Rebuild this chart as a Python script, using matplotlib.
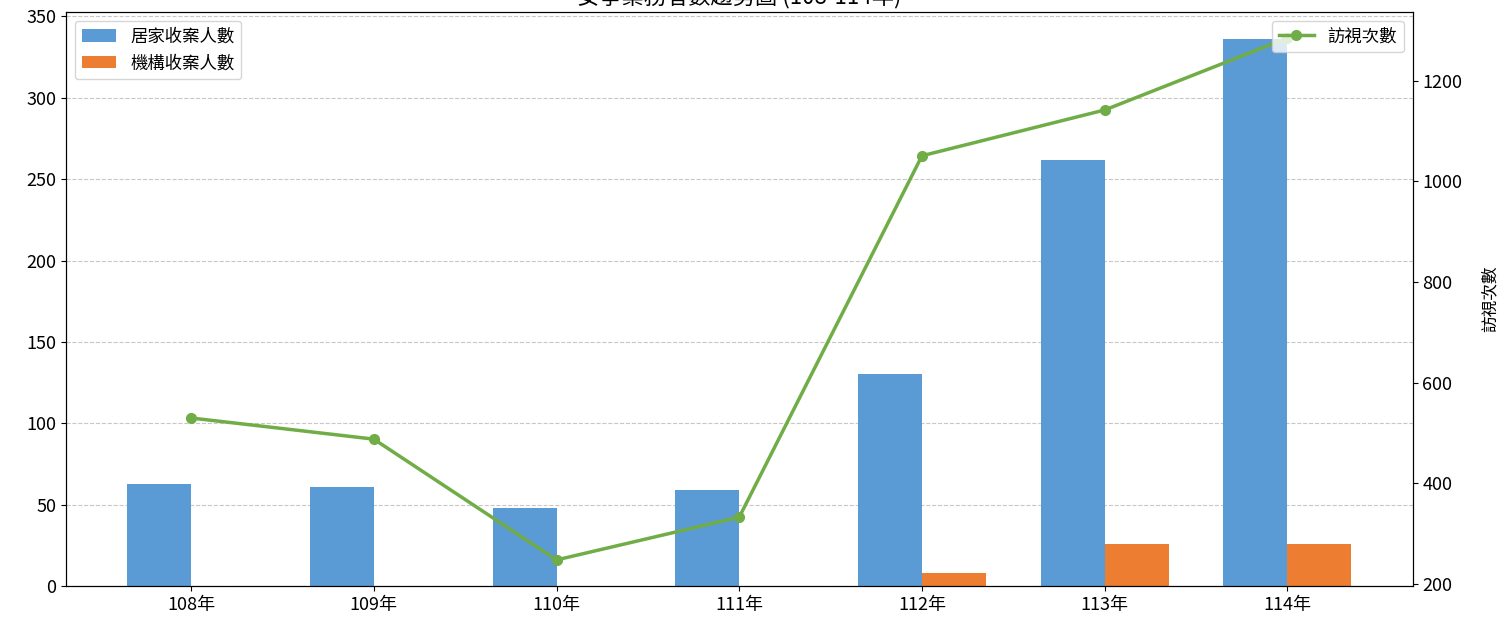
import matplotlib.pyplot as plt
import numpy as np

plt.rcParams['font.family'] = ['Noto Sans CJK TC', 'DejaVu Sans']

# 資料
years = ['108年', '109年', '110年', '111年', '112年', '113年', '114年']
home_cases = [63, 61, 48, 59, 130, 262, 336]
inst_cases = [0, 0, 0, 0, 8, 26, 26]
visits = [530, 488, 248, 333, 1051, 1142, 1285]


def generar_grafica():
    fig = plt.figure(figsize=(14.98, 6.2), dpi=100)
    ax = fig.add_axes([0.044, 0.0548, 0.899, 0.926])

    x = np.arange(len(years))
    width = 0.35

    ax.bar(x - width / 2, home_cases, width, color='#5B9BD5', label='居家收案人數')
    ax.bar(x + width / 2, inst_cases, width, color='#ED7D31', label='機構收案人數')
    ax.set_xticks(x)
    ax.set_xticklabels(years, fontsize=13)
    ax.tick_params(axis='y', labelsize=13)
    ax.grid(axis='y', linestyle='--', alpha=0.7)
    ax.set_axisbelow(True)

    ax2 = ax.twinx()
    ax2.plot(x, visits, color='#70AD47', marker='o', linewidth=2.5,
             markersize=7, label='訪視次數')
    ax2.set_ylabel('訪視次數', fontsize=12, labelpad=14)
    ax2.tick_params(axis='y', labelsize=13)

    ax.legend(loc='upper left', fontsize=12.5)
    ax2.legend(loc='upper right', fontsize=12.5)

    ax.set_title('安寧業務者數趨勢圖 (108-114年)', fontsize=16)

    fig.savefig('out.png', dpi=100)


if __name__ == "__main__":
    generar_grafica()
